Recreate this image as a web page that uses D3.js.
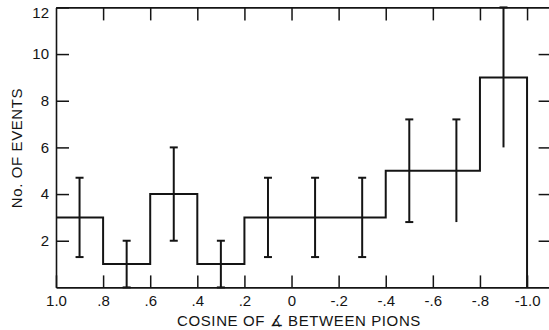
<!DOCTYPE html>
<html>
<head>
<meta charset="utf-8">
<script src="https://cdn.jsdelivr.net/npm/d3@7"></script>
<style>
  body { margin: 0; background: #fff; }
  svg text { font-family: "Liberation Sans", Arial, sans-serif; fill: #141414; }
</style>
</head>
<body>
<div id="chart"></div>
<script>
// bins of cos(angle) (axis runs 1.0 -> -1.0)
let binStart = [1.0, 0.8, 0.6, 0.4, 0.2, 0.0, -0.2, -0.4, -0.6, -0.8];
let binEnd   = [0.8, 0.6, 0.4, 0.2, 0.0, -0.2, -0.4, -0.6, -0.8, -1.0];
let counts   = [3, 1, 4, 1, 3, 3, 3, 5, 5, 9];
let errLow   = [1.3, 0, 2, 0, 1.3, 1.3, 1.3, 2.8, 2.8, 6];
let errHigh  = [4.7, 2, 6, 2, 4.7, 4.7, 4.7, 7.2, 7.2, 12];

let xTicks  = [1.0, 0.8, 0.6, 0.4, 0.2, 0.0, -0.2, -0.4, -0.6, -0.8, -1.0];
let xLabels = ['1.0', '.8', '.6', '.4', '.2', '0', '-.2', '-.4', '-.6', '-.8', '-1.0'];
let yTicks  = [2, 4, 6, 8, 10, 12];

let config = { width: 549, height: 330 };
let ink = '#141414';

let svg = d3.select('#chart').append('svg')
  .attr('width', config.width)
  .attr('height', config.height);

let x = d3.scaleLinear().domain([1.0, -1.1]).range([56, 550.6]);
let y = d3.scaleLinear().domain([0, 12]).range([287.4, 7.4]);

function styleAxis(g) {
  g.selectAll('path.domain').attr('stroke', ink).attr('stroke-width', 1.6);
  g.selectAll('.tick line').attr('stroke', ink).attr('stroke-width', 1.5);
  g.selectAll('.tick text').attr('font-size', 15).attr('fill', ink);
}

// bottom axis, ticks pointing inward
svg.append('g')
  .attr('transform', 'translate(0,' + y(0) + ')')
  .call(d3.axisBottom(x).tickValues(xTicks).tickSizeInner(-12).tickSizeOuter(0)
    .tickPadding(8).tickFormat((d, i) => xLabels[i]))
  .call(styleAxis);

// top axis, ticks only
svg.append('g')
  .attr('transform', 'translate(0,' + y(12) + ')')
  .call(d3.axisTop(x).tickValues(xTicks.slice(1)).tickSizeInner(-13).tickSizeOuter(0).tickFormat(''))
  .call(styleAxis);

// left axis
let left = svg.append('g')
  .attr('transform', 'translate(' + x(1.0) + ',0)')
  .call(d3.axisLeft(y).tickValues(yTicks).tickSizeInner(-13).tickSizeOuter(0).tickPadding(7))
  .call(styleAxis);
left.selectAll('.tick text').filter(d => d === 12).attr('dy', '0.65em');

// right axis (frame edge just off the page)
svg.append('g')
  .attr('transform', 'translate(' + x(-1.1) + ',0)')
  .call(d3.axisRight(y).tickValues(yTicks.slice(0, 5)).tickSizeInner(-12).tickSizeOuter(0).tickFormat(''))
  .call(styleAxis);

// histogram outline
let pts = [];
counts.forEach(function(c, i) {
  pts.push([x(binStart[i]), y(c)]);
  pts.push([x(binEnd[i]), y(c)]);
});
pts.push([x(binEnd[binEnd.length - 1]), y(0)]);

svg.append('path')
  .attr('d', d3.line()(pts))
  .attr('fill', 'none')
  .attr('stroke', ink)
  .attr('stroke-width', 2);

// error bars
let bars = svg.selectAll('g.err')
  .data(counts)
  .enter().append('g')
  .attr('class', 'err');

bars.append('line')
  .attr('x1', (d, i) => x((binStart[i] + binEnd[i]) / 2))
  .attr('x2', (d, i) => x((binStart[i] + binEnd[i]) / 2))
  .attr('y1', (d, i) => y(errLow[i]))
  .attr('y2', (d, i) => y(errHigh[i]))
  .attr('stroke', ink).attr('stroke-width', 2);

bars.append('line')
  .attr('x1', (d, i) => x((binStart[i] + binEnd[i]) / 2) - 4)
  .attr('x2', (d, i) => x((binStart[i] + binEnd[i]) / 2) + 4)
  .attr('y1', (d, i) => y(errHigh[i]))
  .attr('y2', (d, i) => y(errHigh[i]))
  .attr('stroke', ink).attr('stroke-width', 2);

bars.filter((d, i) => errLow[i] > 0).append('line')
  .attr('x1', (d, i) => x((binStart[i] + binEnd[i]) / 2) - 4)
  .attr('x2', (d, i) => x((binStart[i] + binEnd[i]) / 2) + 4)
  .attr('y1', (d, i) => y(errLow[i]))
  .attr('y2', (d, i) => y(errLow[i]))
  .attr('stroke', ink).attr('stroke-width', 2);

// axis titles
svg.append('text')
  .attr('x', 299).attr('y', 326)
  .attr('text-anchor', 'middle')
  .attr('font-size', 15)
  .attr('letter-spacing', 0.6)
  .text('COSINE OF \u2221 BETWEEN PIONS');

svg.append('text')
  .attr('transform', 'translate(22,148) rotate(-90)')
  .attr('text-anchor', 'middle')
  .attr('font-size', 15)
  .attr('letter-spacing', 0.6)
  .text('No. OF EVENTS');
</script>
</body>
</html>
